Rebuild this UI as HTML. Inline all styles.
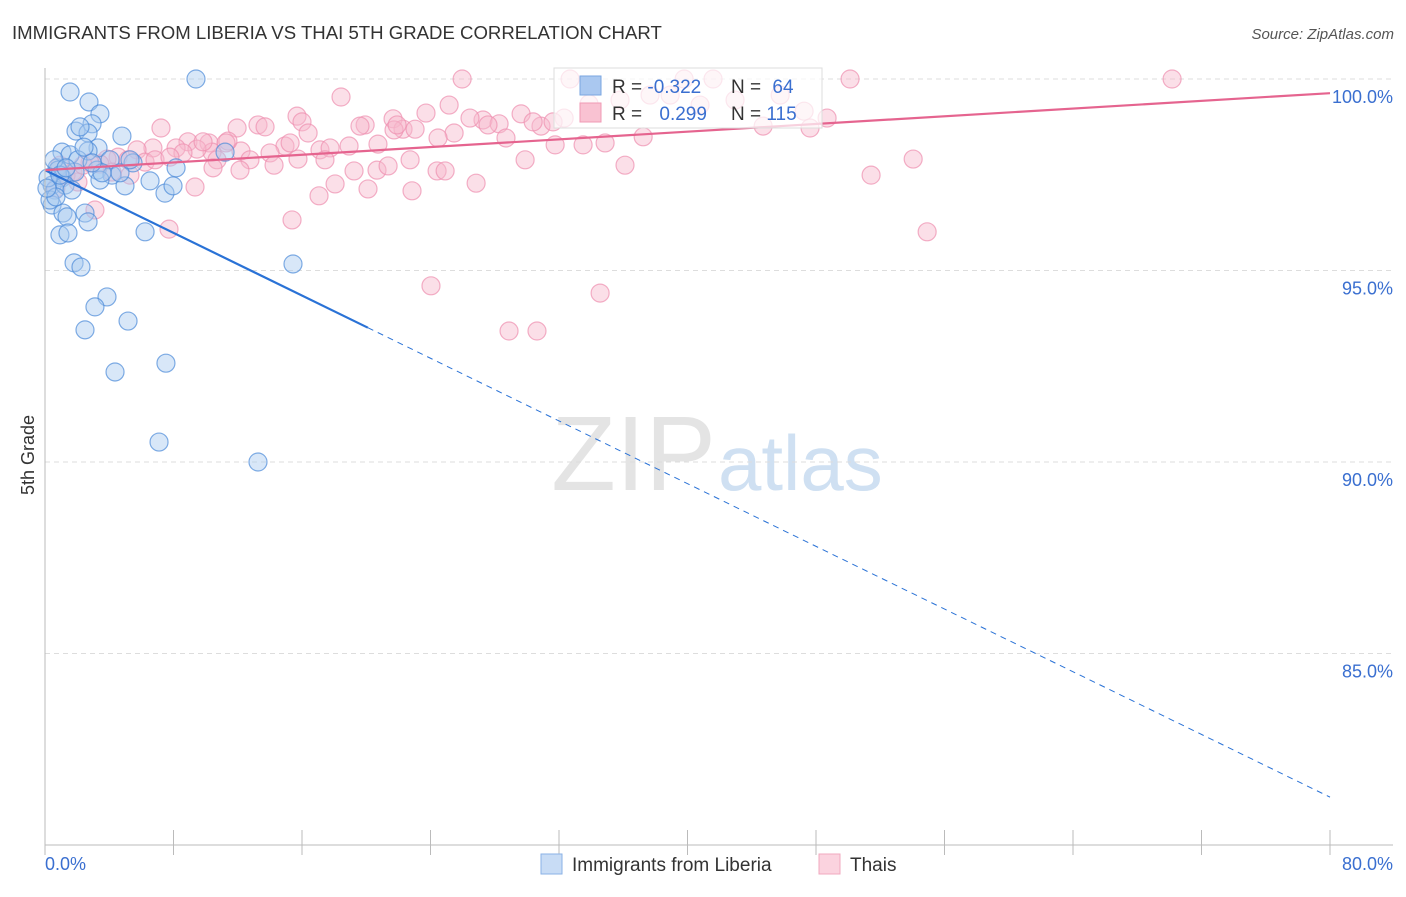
<!DOCTYPE html>
<html><head><meta charset="utf-8"><style>
body{margin:0;background:#fff;font-family:"Liberation Sans",sans-serif;}
svg text{font-family:"Liberation Sans",sans-serif;}
</style></head><body>
<svg id="chart" width="1406" height="892" viewBox="0 0 1406 892" xmlns="http://www.w3.org/2000/svg">
<text x="12" y="39" font-size="18.6" fill="#333">IMMIGRANTS FROM LIBERIA VS THAI 5TH GRADE CORRELATION CHART</text>
<text x="1394" y="39" font-size="15" fill="#555" font-style="italic" text-anchor="end">Source: ZipAtlas.com</text>
<text x="716" y="490" font-size="106" fill="#e4e4e4" text-anchor="end" font-family="Liberation Serif">ZIP</text>
<text x="718" y="490" font-size="78" fill="#cfe0f2">atlas</text>
<text x="34" y="455" font-size="18" fill="#333" text-anchor="middle" transform="rotate(-90 34 455)">5th Grade</text>
<g id="grid"></g><g id="marks"></g><g id="axes"></g>
<g>
<rect x="554" y="68" width="268" height="60" fill="#fff" fill-opacity="0.7" stroke="#ddd"/>
<rect x="580" y="76" width="21" height="19" fill="#aac8f0" stroke="#7aa6e0"/>
<rect x="580" y="103" width="21" height="19" fill="#f9c2d2" stroke="#f09ab4"/>
<text x="612" y="93" font-size="19" fill="#333">R = <tspan fill="#3a6fd0">-0.322</tspan></text>
<text x="731" y="93" font-size="19" fill="#333">N = <tspan fill="#3a6fd0" dx="6">64</tspan></text>
<text x="612" y="120" font-size="19" fill="#333">R = <tspan fill="#3a6fd0" dx="12">0.299</tspan></text>
<text x="731" y="120" font-size="19" fill="#333">N = <tspan fill="#3a6fd0">115</tspan></text>
</g>
<g>
<rect x="541" y="854" width="21" height="20" fill="#c8dcf5" stroke="#8ab2e6"/>
<text x="572" y="871" font-size="19" fill="#333">Immigrants from Liberia</text>
<rect x="819" y="854" width="21" height="20" fill="#fbd3df" stroke="#f0a8bf"/>
<text x="850" y="871" font-size="19" fill="#333">Thais</text>
</g>
</svg>
<script>
const yTicks=[100,95,90,85];
const xTickLabels=["0.0%","80.0%"];
const blueX=[0.75,1.06,1.56,2.74,3.42,2.93,1.93,2.68,4.79,2.18,3.30,2.68,1.56,0.81,1.06,0.44,0.62,1.87,3.24,4.17,5.48,4.98,3.42,6.54,7.47,7.97,8.16,11.21,0.44,1.12,1.37,2.49,0.93,1.43,2.68,6.23,1.81,2.24,15.44,3.86,3.11,2.49,5.17,4.36,7.53,7.10,13.26,9.40,0.31,0.19,0.56,1.25,1.68,2.05,4.05,2.43,0.68,0.12,0.93,1.31,4.67,3.55,2.93,5.29];
const blueY=[97.68,98.09,99.66,99.40,99.09,98.83,98.64,98.59,98.51,98.75,98.20,98.12,98.02,97.62,97.42,97.23,97.10,97.57,97.62,97.49,97.81,97.21,97.36,97.34,97.02,97.21,97.68,98.09,96.71,96.50,96.40,96.50,95.93,95.98,96.27,96.01,95.20,95.09,95.17,94.31,94.05,93.45,93.68,92.35,92.58,90.52,90.00,100,96.84,97.42,97.89,97.23,97.10,97.89,97.89,98.22,96.92,97.15,97.49,97.68,97.55,97.55,97.81,97.89];
const pinkX=[25.97,50.12,70.17,39.79,32.69,41.59,18.43,15.69,25.16,23.72,21.67,19.93,16.00,13.26,11.96,13.70,7.22,16.38,22.29,27.27,29.64,30.88,28.27,25.47,24.47,23.04,21.73,20.73,18.93,17.12,17.75,14.94,14.01,12.20,10.21,11.39,10.40,8.90,8.16,6.72,5.73,4.55,3.86,3.42,9.46,8.59,10.71,12.76,14.26,15.75,17.43,19.24,20.11,18.06,17.06,15.38,20.67,21.36,22.73,24.41,22.85,24.91,26.84,29.89,31.76,33.50,34.87,36.11,37.24,34.56,24.03,28.89,30.63,9.34,7.72,3.11,2.05,1.31,0.68,0.93,1.74,2.80,5.17,6.23,44.71,47.26,48.69,47.63,54.05,51.43,54.92,27.58,28.70,30.39,32.32,33.87,35.80,37.67,38.92,40.78,42.96,45.77,26.46,19.61,21.92,31.63,12.14,10.46,5.29,2.37,4.17,6.85,11.27,9.84,7.78,15.26];
const pinkY=[100,100,100,100,100,100,99.53,99.03,99.32,99.11,98.96,98.80,98.88,98.80,98.72,98.75,98.72,98.59,98.69,98.93,99.09,98.77,98.83,98.59,98.46,98.69,98.67,98.30,98.25,98.15,98.20,98.25,98.07,98.12,98.33,98.38,98.09,98.36,98.20,98.20,98.15,97.96,97.91,97.78,98.17,98.07,97.89,97.89,97.75,97.91,97.89,97.60,97.13,97.26,96.95,96.32,97.62,97.73,97.89,97.60,97.08,97.60,97.28,97.89,98.28,98.28,98.33,97.75,98.49,94.41,94.60,93.42,93.42,97.18,96.08,96.58,97.31,97.49,97.15,97.75,97.57,97.81,97.89,97.83,98.77,99.16,98.98,98.72,97.91,97.49,96.01,98.80,98.46,98.88,98.98,99.35,99.45,99.58,99.58,99.32,99.45,99.58,98.98,98.77,98.80,98.88,97.62,97.68,97.49,97.75,97.57,97.89,98.33,98.36,97.96,98.33];
const blueTrend=[97.62,81.25];
const pinkTrend=[97.62,99.63];
const blueSolidEnd=20.1;

const NS="http://www.w3.org/2000/svg";
const X0=45,X1=1330,Y100=79,PX5=191.5;
const sx=v=>X0+(v/80)*(X1-X0);
const sy=v=>Y100+(100-v)/5*PX5;
function mk(tag,attrs,parent){const e=document.createElementNS(NS,tag);for(const k in attrs)e.setAttribute(k,attrs[k]);parent.appendChild(e);return e;}
const grid=document.getElementById('grid'),marks=document.getElementById('marks'),axes=document.getElementById('axes');
yTicks.forEach(t=>{
  const l=mk('line',{x1:X0,x2:1393,y1:sy(t),y2:sy(t),stroke:'#ddd','stroke-dasharray':'5,4'},grid);
  
  
  const tx=mk('text',{x:1393,y:sy(t)+24,'font-size':18,fill:'#3a6fd0','text-anchor':'end'},axes);
  tx.textContent=t.toFixed(1)+'%';
  
  
});
const ax=mk('line',{x1:X0,x2:X0,y1:68,y2:845,stroke:'#bbb'},axes);


const bx=mk('line',{x1:X0,x2:1393,y1:845,y2:845,stroke:'#bbb'},axes);


for(let i=0;i<=10;i++){const t=mk('line',{x1:sx(i*8),x2:sx(i*8),y1:830,y2:855,stroke:'#bbb'},axes);
  
  }
[[0,'start',X0],[80,'end',1393]].forEach((d,i)=>{const t=mk('text',{x:d[2],y:870,'font-size':18,fill:'#3a6fd0','text-anchor':d[1]},axes);t.textContent=xTickLabels[i];
  
  });
function dots(xs,ys,fill,stroke,name){xs.forEach((x,i)=>{const c=mk('circle',{cx:sx(x),cy:sy(ys[i]),r:9,fill:fill,'fill-opacity':0.45,stroke:stroke,'stroke-opacity':0.7,'stroke-width':1.2},marks);
  
  });}
dots(pinkX,pinkY,'#f7b8cb','#ee8faf','thais-point');
dots(blueX,blueY,'#a9c9f0','#4b8ad8','liberia-point');
const lerp=(tr,x)=>tr[0]+(tr[1]-tr[0])*x/80;
const bs=mk('line',{x1:sx(0),y1:sy(lerp(blueTrend,0)),x2:sx(blueSolidEnd),y2:sy(lerp(blueTrend,blueSolidEnd)),stroke:'#2a72d6','stroke-width':2.2},marks);


const bd=mk('line',{x1:sx(blueSolidEnd),y1:sy(lerp(blueTrend,blueSolidEnd)),x2:sx(80),y2:sy(lerp(blueTrend,80)),stroke:'#2a72d6','stroke-width':1,'stroke-dasharray':'6,5'},marks);


const pl=mk('line',{x1:sx(0),y1:sy(pinkTrend[0]),x2:sx(80),y2:sy(pinkTrend[1]),stroke:'#e5648f','stroke-width':2.2},marks);


</script>
</body></html>
